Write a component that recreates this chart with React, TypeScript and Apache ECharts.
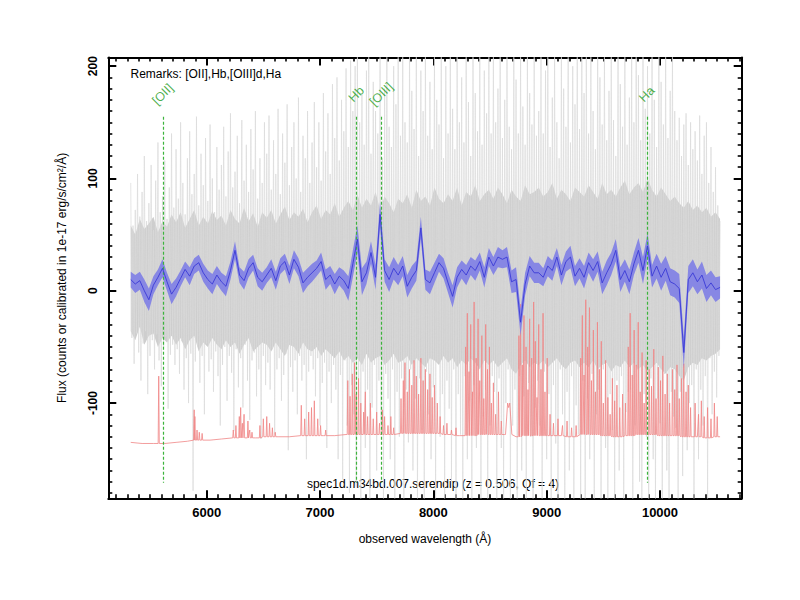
import React, { useEffect, useRef } from "react";
import * as echarts from "echarts";

// ---------- axes ----------
const X_MIN = 5132;
const X_MAX = 10721;
const Y_MIN = -184.8;
const Y_MAX = 207.7;
const xMajorTicks = [6000, 7000, 8000, 9000, 10000];
const yMajorTicks = [-100, 0, 100, 200];

// ---------- grey raw spectrum (every 10 Å from 5330 Å) ----------
const GREY_START = 5330;
const GREY_STEP = 10;
const greyFlux = [
  96, -42, 58, -65, 72, -38, 104, -55, 66, -80, 88, -47, 120, -36, 62, -92, 78, -58, 112, -44,
  54, -70, 98, -39, 132, -62, 70, -85, 84, -50, 116, -41, 64, -105, 92, -57, 140, -48, 74, -66,
  126, -52, 82, -74, 150, -45, 96, -88, 68, -60, 118, -100, 142, -56, 86, -178, 104, -63, 155, -49,
  76, -82, 122, -58, 94, -110, 136, -47, 80, -72, 148, -61, 100, -90, 70, -54, 128, -76, 90, -120,
  112, -66, 146, -50, 84, -98, 124, -58, 158, -73, 92, -125, 106, -52, 138, -86, 78, -60, 152, -104,
  98, -48, 130, -80, 88, -115, 144, -62, 108, -55, 160, -94, 82, -70, 118, -132, 96, -58, 150, -84,
  122, -64, 156, -88, 90, -52, 134, -128, 104, -70, 162, -60, 86, -98, 140, -75, 114, -56, 166, -142,
  94, -68, 128, -90, 150, -62, 100, -110, 172, -58, 88, -80, 138, -66, 118, -150, 160, -72, 96, -58,
  132, -70, 168, -94, 110, -60, 150, -120, 98, -82, 176, -64, 124, -140, 158, -72, 104, -100, 184, -66,
  136, -88, 190, -150, 116, -75, 170, -168, 142, -62, 198, -120, 128, -180, 205, -84, 160, -110, 200, -175,
  210, -96, 150, -185, 176, -72, 130, -140, 196, -88, 215, -185, 122, -104, 186, -66, 160, -160, 140, -80,
  208, -120, 118, -185, 180, -74, 215, -96, 146, -150, 128, -70, 200, -185, 166, -90, 215, -130, 138, -78,
  215, -185, 150, -88, 132, -135, 215, -70, 178, -160, 144, -96, 215, -185, 120, -78, 196, -124, 160, -185,
  215, -72, 138, -110, 186, -150, 126, -86, 215, -185, 170, -64, 148, -130, 215, -92, 118, -185, 200, -80,
  140, -105, 215, -170, 162, -70, 126, -185, 215, -92, 150, -128, 190, -185, 132, -76, 215, -150, 168, -98,
  120, -185, 215, -84, 176, -140, 142, -70, 215, -185, 130, -112, 196, -88, 158, -185, 215, -120, 140, -76,
  215, -90, 150, -185, 180, -78, 215, -140, 136, -185, 170, -100, 215, -70, 146, -185, 126, -120, 215, -88,
  188, -185, 140, -76, 215, -160, 164, -94, 130, -185, 215, -82, 176, -130, 148, -185, 215, -104, 138, -80,
  160, -120, 215, -185, 140, -72, 196, -150, 215, -92, 128, -185, 172, -84, 215, -136, 150, -185, 118, -70,
  215, -110, 180, -185, 146, -90, 215, -160, 132, -76, 200, -185, 166, -102, 215, -128, 144, -185, 215, -80,
  176, -185, 215, -96, 140, -150, 215, -74, 160, -185, 126, -110, 215, -88, 190, -185, 148, -70, 215, -140,
  134, -185, 178, -92, 215, -124, 152, -185, 120, -80, 215, -160, 184, -76, 146, -185, 215, -108, 130, -90,
  172, -88, 215, -185, 150, -120, 215, -70, 192, -170, 134, -185, 215, -92, 162, -130, 200, -185, 140, -78,
  215, -150, 170, -185, 128, -96, 215, -118, 186, -185, 148, -74, 215, -160, 136, -185, 178, -90, 215, -112,
  160, -122, 134, -185, 154, -90, 120, -165, 148, -72, 158, -142, 112, -100, 150, -84, 126, -185, 142, -70,
  116, -150, 156, -88, 104, -120, 138, -76, 150, -185, 96, -60, 128, -110, 88, -72, 110, -95, 76, -58,
  62,
];

// ---------- dense grey core (every 40 Å from 5330 Å) ----------
const CORE_START = 5330;
const CORE_STEP = 40;
const coreHi = [
  58, 50, 64, 55, 60, 66, 52, 62, 57, 68,
  61, 70, 56, 64, 72, 58, 66, 60, 71, 63,
  67, 58, 72, 64, 60, 74, 62, 69, 57, 70,
  65, 72, 60, 68, 75, 63, 70, 66, 73, 61,
  70, 76, 64, 72, 68, 78, 66, 74, 80, 72,
  86, 74, 82, 76, 88, 72, 84, 78, 70, 82,
  78, 86, 74, 90, 80, 84, 76, 92, 82, 78,
  86, 80, 92, 76, 88, 84, 94, 80, 86, 90,
  82, 92, 86, 78, 90, 84, 80, 94, 86, 88,
  92, 84, 88, 96, 82, 90, 86, 80, 92, 88,
  84, 94, 88, 82, 96, 86, 90, 84, 92, 98,
  86, 92, 96, 88, 100, 90, 84, 92, 86, 80,
  84, 78, 74, 80, 72, 76, 70, 74, 66, 70,
  64,
];
const coreLo = [
  -36, -44, -32, -48, -40, -38, -50, -42, -46, -40,
  -48, -42, -52, -44, -40, -54, -46, -50, -42, -48,
  -52, -44, -50, -46, -56, -48, -42, -54, -50, -46,
  -48, -54, -46, -52, -58, -48, -50, -56, -46, -52,
  -54, -50, -58, -52, -56, -60, -54, -62, -58, -64,
  -60, -66, -56, -64, -60, -58, -66, -62, -56, -64,
  -62, -58, -66, -60, -64, -68, -60, -62, -66, -58,
  -64, -60, -68, -62, -66, -60, -64, -70, -62, -66,
  -62, -68, -64, -60, -70, -74, -66, -62, -68, -64,
  -66, -62, -68, -64, -60, -66, -70, -64, -62, -68,
  -64, -68, -62, -70, -66, -64, -72, -66, -68, -62,
  -68, -64, -70, -66, -72, -68, -64, -70, -74, -68,
  -70, -76, -80, -68, -64, -66, -60, -62, -58, -56,
  -52,
];

// ---------- smoothed spectrum (every 40 Å from 5330 Å) ----------
const BLUE_START = 5330;
const BLUE_STEP = 40;
const blueFlux = [
  10, 6, 9, 0, -8, 5, 12, 20, 8, -3,
  3, 11, 19, 13, 22, 25, 16, 10, 6, 14,
  8, 4, 18, 36, 14, 9, 20, 25, 12, 8,
  14, 20, 9, 22, 26, 14, 28, 21, 7, 12,
  16, 20, 26, 10, 14, 6, 13, 9, 2, 24,
  46, 8, 16, 34, 12, 68, 18, 10, 20, 14,
  22, 4, 12, 18, 56, 10, 7, 16, 25, 20,
  7, -5, 12, 19, 14, 22, 18, 26, 12, 30,
  22, 30, 28, 30, 8, 10, -28, 6, 22, 16,
  16, 12, 22, 18, 30, 14, 26, 30, 13, 20,
  12, 25, 18, 26, 7, 16, 24, 36, 10, 18,
  8, 24, 36, 18, 40, 13, 22, 12, 20, 8,
  6, 2, -55, 10, 16, 8, 14, 2, 7, 1,
  3,
];
const blueErr = [
  7, 8, 8, 10, 10, 8, 7, 8, 8, 9,
  8, 7, 7, 8, 7, 7, 8, 8, 9, 8,
  8, 9, 8, 8, 7, 8, 8, 7, 8, 8,
  7, 8, 8, 7, 7, 8, 8, 8, 9, 8,
  8, 7, 8, 9, 8, 9, 8, 9, 11, 12,
  12, 12, 10, 10, 11, 12, 10, 11, 10, 9,
  9, 10, 10, 9, 10, 9, 10, 9, 8, 9,
  9, 10, 9, 8, 9, 8, 9, 8, 9, 8,
  8, 9, 8, 9, 10, 11, 12, 10, 9, 9,
  9, 8, 9, 9, 8, 9, 9, 10, 9, 9,
  10, 9, 10, 9, 10, 11, 10, 10, 11, 10,
  11, 10, 11, 12, 11, 10, 11, 12, 11, 12,
  12, 13, 14, 12, 12, 11, 12, 12, 11, 11,
  10,
];

// ---------- sky spectrum ----------
const SKY_START = 5330;
const SKY_STEP = 100;
const skyBase = [
  -135, -136, -136, -136, -135, -134, -133, -133,
  -132, -131, -131, -131, -130, -130, -130, -129, -129, -129,
  -129, -128, -128, -128, -128, -128, -127, -127, -127, -127,
  -128, -129, -129, -128, -128, -128, -130, -129, -129, -129,
  -129, -130, -128, -128, -129, -130, -129, -128, -128, -129,
  -129, -130, -130, -131, -130,
];
const skyLines: [number, number][] = [
  [5577, -76], [5890, -106], [5896, -112], [5915, -124], [5935, -126], [5960, -127],
  [6235, -124], [6258, -120], [6288, -112], [6300, -104], [6315, -118], [6330, -110], [6364, -116], [6380, -124], [6400, -126],
  [6470, -120], [6500, -114], [6530, -112], [6555, -118], [6580, -122], [6605, -126],
  [6835, -102], [6865, -114], [6900, -108], [6925, -104], [6950, -98], [6980, -114], [7005, -120], [7050, -124],
  [7245, -80], [7265, -94], [7285, -74], [7305, -64], [7320, -92], [7340, -78], [7360, -100], [7385, -108], [7400, -90],
  [7420, -112], [7445, -100], [7470, -114], [7500, -108], [7525, -118], [7550, -106], [7570, -112], [7600, -120], [7625, -112], [7650, -122],
  [7715, -96], [7735, -80], [7750, -64], [7770, -90], [7790, -70], [7810, -84], [7830, -62], [7850, -76], [7870, -92], [7890, -60],
  [7910, -80], [7930, -70], [7950, -88], [7970, -74], [7990, -95], [8010, -84], [8035, -100], [8060, -112], [8090, -120], [8120, -118],
  [8160, -124], [8200, -122],
  [8285, -50], [8300, -20], [8315, -72], [8330, -30], [8345, -90], [8360, -10], [8378, -60], [8395, -25], [8410, -80], [8428, -40],
  [8445, -96], [8462, -30], [8478, -70], [8495, -50], [8512, -100], [8530, -82], [8550, -110], [8575, -90], [8600, -116],
  [8755, -40], [8770, -12], [8785, -66], [8800, -22], [8818, -50], [8835, -88], [8850, -25], [8868, -60], [8885, -10], [8900, -45],
  [8915, -95], [8930, -30], [8950, -70], [8968, -20], [8985, -90], [9005, -60], [9030, -110], [9060, -118], [9100, -114], [9140, -120],
  [9180, -116], [9220, -122], [9260, -120],
  [9300, -60], [9315, -22], [9330, -75], [9345, -8], [9362, -50], [9378, -15], [9395, -80], [9412, -35], [9430, -90], [9448, -28],
  [9465, -70], [9482, -45], [9500, -100], [9520, -62], [9540, -95], [9560, -110],
  [9580, -78], [9600, -98], [9620, -84], [9645, -104], [9670, -92], [9695, -100],
  [9720, -50], [9737, -20], [9755, -75], [9772, -35], [9790, -66], [9808, -28], [9825, -90], [9842, -55], [9860, -100], [9878, -62],
  [9905, -70], [9925, -85], [9945, -52], [9965, -96], [9985, -68], [10005, -80], [10025, -58], [10045, -92], [10065, -74], [10085, -100],
  [10110, -70], [10130, -88], [10150, -66], [10170, -96], [10190, -78], [10210, -65], [10230, -90], [10250, -84], [10270, -104],
  [10310, -100], [10340, -110], [10365, -98], [10390, -112], [10420, -104], [10450, -114], [10480, -100], [10505, -112],
];
// broad feature: [centre, peak, half width]
const skyBumps: [number, number, number][] = [[8665, -104, 28]];

// ---------- emission lines ----------
const lineNames = ["[OII]", "Hb", "[OIII]", "Ha"];
const lineWaves = [5613, 7321, 7541, 9884];
const LINE_TOP = 155;
const LINE_BOTTOM = -171;
const LABEL_Y = 175;

const remarks = "Remarks: [OII],Hb,[OIII]d,Ha";
const specName = "spec1d.m34bd.007.serendip (z = 0.506, Qf = 4)";
const xName = "observed wavelength (Å)";
const yName = "Flux (counts or calibrated in 1e-17 erg/s/cm²/Å)";

const FONT = "'Liberation Sans', Arial, Helvetica, sans-serif";
const GREEN_TEXT = "#1c9c1c";
const GREEN_LINE = "#3cb43c";

function buildMinor(min: number, max: number, step: number, majors: number[]) {
  const out: number[] = [];
  const start = Math.ceil(min / step) * step;
  for (let v = start; v <= max; v += step) {
    if (!majors.includes(v)) out.push(v);
  }
  return out;
}

function bandSeries(hi: number[][], lo: number[][], color: string, z: number) {
  return {
    type: "custom",
    silent: true,
    clip: true,
    z,
    data: [[hi[0][0], hi[0][1]]],
    renderItem: (params: any, api: any) => {
      const pts: number[][] = [];
      hi.forEach((p) => pts.push(api.coord(p)));
      for (let i = lo.length - 1; i >= 0; i--) pts.push(api.coord(lo[i]));
      return {
        type: "polygon",
        shape: { points: pts },
        style: { fill: color, stroke: "none" },
      };
    },
  };
}

export default function App() {
  const ref = useRef<HTMLDivElement>(null);

  useEffect(() => {
    document.body.style.margin = "0";
    if (!ref.current) return;
    const chart = echarts.init(ref.current, undefined, { renderer: "svg" });

    const xMinor = buildMinor(X_MIN, X_MAX, 100, xMajorTicks);
    const yMinor = buildMinor(Y_MIN, Y_MAX, 10, yMajorTicks);

    const greyData = greyFlux.map((v, i) => [GREY_START + i * GREY_STEP, v]);
    const coreHiPts = coreHi.map((v, i) => [CORE_START + i * CORE_STEP, v]);
    const coreLoPts = coreLo.map((v, i) => [CORE_START + i * CORE_STEP, v]);
    const blueData = blueFlux.map((v, i) => [BLUE_START + i * BLUE_STEP, v]);
    const blueHiPts = blueFlux.map((v, i) => [BLUE_START + i * BLUE_STEP, v + blueErr[i]]);
    const blueLoPts = blueFlux.map((v, i) => [BLUE_START + i * BLUE_STEP, v - blueErr[i]]);

    const baseAt = (w: number) =>
      skyBase[Math.min(skyBase.length - 1, Math.max(0, Math.round((w - SKY_START) / SKY_STEP)))];
    const skyPts: number[][] = [];
    skyBase.forEach((v, i) => {
      const w = SKY_START + i * SKY_STEP;
      const near =
        skyLines.some(([lw]) => Math.abs(lw - w) <= 6) ||
        skyBumps.some(([bw, , hw]) => Math.abs(bw - w) <= hw);
      if (!near) skyPts.push([w, v]);
    });
    skyLines.forEach(([w, p]) => {
      const b = baseAt(w);
      skyPts.push([w - 5, b], [w, p], [w + 5, b]);
    });
    skyBumps.forEach(([w, p, hw]) => {
      const b = baseAt(w);
      skyPts.push([w - hw, b], [w - hw / 3, p + 4], [w, p], [w + hw / 3, p + 4], [w + hw, b]);
    });
    skyPts.sort((a, b) => a[0] - b[0]);

    const xBase = {
      type: "value",
      min: X_MIN,
      max: X_MAX,
      splitLine: { show: false },
      axisPointer: { show: false },
    };
    const yBase = {
      type: "value",
      min: Y_MIN,
      max: Y_MAX,
      splitLine: { show: false },
      axisPointer: { show: false },
    };
    const frameLine = { show: true, onZero: false, lineStyle: { color: "#000", width: 2 } };
    const plain = (v: number) => String(v);

    const option: any = {
      animation: false,
      backgroundColor: "#fff",
      grid: { left: 108.3, right: 58.3, top: 57.5, bottom: 101.7, containLabel: false },
      xAxis: [
        {
          ...xBase,
          position: "bottom",
          axisLine: frameLine,
          axisTick: { show: true, inside: true, length: 8, customValues: xMajorTicks, lineStyle: { color: "#000", width: 2 } },
          axisLabel: {
            show: true,
            customValues: xMajorTicks,
            formatter: plain,
            margin: 8,
            color: "#000",
            fontSize: 13,
            fontWeight: "bold",
            fontFamily: FONT,
          },
          name: xName,
          nameLocation: "middle",
          nameGap: 35,
          nameTextStyle: { color: "#000", fontSize: 12, fontFamily: FONT },
        },
        {
          ...xBase,
          position: "top",
          axisLine: frameLine,
          axisTick: { show: true, inside: true, length: 8, customValues: xMajorTicks, lineStyle: { color: "#000", width: 2 } },
          axisLabel: { show: false },
        },
        {
          ...xBase,
          position: "bottom",
          axisLine: { show: false, onZero: false },
          axisTick: { show: true, inside: true, length: 4, customValues: xMinor, lineStyle: { color: "#000", width: 1.6 } },
          axisLabel: { show: false },
        },
        {
          ...xBase,
          position: "top",
          axisLine: { show: false, onZero: false },
          axisTick: { show: true, inside: true, length: 4, customValues: xMinor, lineStyle: { color: "#000", width: 1.6 } },
          axisLabel: { show: false },
        },
      ],
      yAxis: [
        {
          ...yBase,
          position: "left",
          axisLine: frameLine,
          axisTick: { show: true, inside: true, length: 8, customValues: yMajorTicks, lineStyle: { color: "#000", width: 2 } },
          axisLabel: {
            show: true,
            customValues: yMajorTicks,
            formatter: plain,
            rotate: 90,
            margin: 9,
            color: "#000",
            fontSize: 12,
            fontWeight: "bold",
            fontFamily: FONT,
          },
          name: yName,
          nameLocation: "middle",
          nameGap: 40,
          nameTextStyle: { color: "#000", fontSize: 12, fontFamily: FONT },
        },
        {
          ...yBase,
          position: "right",
          axisLine: frameLine,
          axisTick: { show: true, inside: true, length: 8, customValues: yMajorTicks, lineStyle: { color: "#000", width: 2 } },
          axisLabel: { show: false },
        },
        {
          ...yBase,
          position: "left",
          axisLine: { show: false, onZero: false },
          axisTick: { show: true, inside: true, length: 4, customValues: yMinor, lineStyle: { color: "#000", width: 1.6 } },
          axisLabel: { show: false },
        },
        {
          ...yBase,
          position: "right",
          axisLine: { show: false, onZero: false },
          axisTick: { show: true, inside: true, length: 4, customValues: yMinor, lineStyle: { color: "#000", width: 1.6 } },
          axisLabel: { show: false },
        },
      ],
      series: [
        bandSeries(coreHiPts, coreLoPts, "#cecece", 1),
        {
          name: "spectrum",
          type: "line",
          data: greyData,
          symbol: "none",
          silent: true,
          lineStyle: { color: "#dadada", width: 0.7 },
          z: 2,
        },
        {
          name: "sky",
          type: "line",
          data: skyPts,
          symbol: "none",
          silent: true,
          lineStyle: { color: "#f08585", width: 0.8 },
          z: 3,
        },
        bandSeries(blueHiPts, blueLoPts, "#8787e4", 4),
        {
          name: "smoothed",
          type: "line",
          data: blueData,
          symbol: "none",
          silent: true,
          lineStyle: { color: "#3a3ad6", width: 0.9 },
          z: 5,
          markLine: {
            silent: true,
            symbol: ["none", "none"],
            label: { show: false },
            lineStyle: { color: GREEN_LINE, type: [3, 2], width: 1.2 },
            data: lineWaves.map((w) => [{ coord: [w, LINE_TOP] }, { coord: [w, LINE_BOTTOM] }]),
          },
        },
        {
          name: "lineLabels",
          type: "scatter",
          data: lineWaves.map((w, i) => ({ value: [w, LABEL_Y], name: lineNames[i] })),
          symbolSize: 1,
          itemStyle: { color: "rgba(0,0,0,0)" },
          silent: true,
          z: 6,
          label: {
            show: true,
            formatter: "{b}",
            position: "inside",
            rotate: 45,
            color: GREEN_TEXT,
            fontSize: 12.5,
            fontFamily: FONT,
          },
        },
      ],
      graphic: [
        {
          type: "text",
          x: 130.5,
          y: 74,
          silent: true,
          style: {
            text: remarks,
            fill: "#000",
            fontSize: 12,
            fontFamily: FONT,
            align: "left",
            verticalAlign: "middle",
          },
        },
        {
          type: "text",
          x: 433,
          y: 484,
          silent: true,
          style: {
            text: specName,
            fill: "#000",
            fontSize: 12,
            fontFamily: FONT,
            align: "center",
            verticalAlign: "middle",
          },
        },
      ],
    };

    chart.setOption(option);
    return () => {
      chart.dispose();
    };
  }, []);

  return <div ref={ref} style={{ width: 800, height: 600 }} />;
}
